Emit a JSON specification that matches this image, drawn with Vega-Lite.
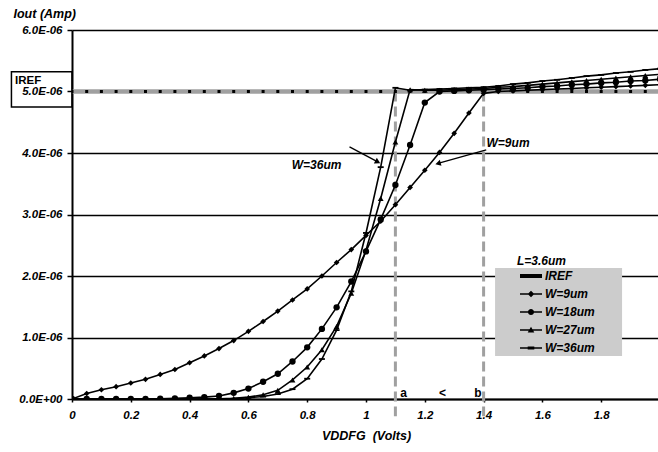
{
  "$schema": "https://vega.github.io/schema/vega-lite/v6.json",
  "width": 588,
  "height": 369,
  "autosize": {"type": "none"},
  "padding": {"left": 72, "top": 30, "right": 0, "bottom": 53},
  "background": "white",
  "config": {
    "font": "Liberation Sans",
    "view": {"stroke": null},
    "axis": {
      "labelFont": "Liberation Sans", "labelFontSize": 11.5, "labelFontWeight": "bold", "labelFontStyle": "italic", "labelColor": "black",
      "domainColor": "black", "domainWidth": 2,
      "tickColor": "black", "tickWidth": 1.5,
      "titleFont": "Liberation Sans", "titleFontSize": 12.5, "titleFontWeight": "bold", "titleFontStyle": "italic", "titleColor": "black"
    },
    "axisX": {"grid": false, "tickSize": 3, "labelPadding": 7, "labelFlush": false, "labelOverlap": false, "titlePadding": 9},
    "axisY": {
      "grid": true, "gridColor": "black", "gridWidth": 1.5, "gridOpacity": 1,
      "tickSize": 5, "labelPadding": 5,
      "titleAngle": 0, "titleAlign": "left", "titleBaseline": "middle", "titleX": -59, "titleY": -17
    }
  },
  "datasets": {
    "curves": [
      {"s":"IREF","v":0,"i":5},{"s":"IREF","v":0.05,"i":5},{"s":"IREF","v":0.1,"i":5},{"s":"IREF","v":0.15,"i":5},{"s":"IREF","v":0.2,"i":5},{"s":"IREF","v":0.25,"i":5},{"s":"IREF","v":0.3,"i":5},{"s":"IREF","v":0.35,"i":5},{"s":"IREF","v":0.4,"i":5},{"s":"IREF","v":0.45,"i":5},{"s":"IREF","v":0.5,"i":5},{"s":"IREF","v":0.55,"i":5},{"s":"IREF","v":0.6,"i":5},{"s":"IREF","v":0.65,"i":5},{"s":"IREF","v":0.7,"i":5},{"s":"IREF","v":0.75,"i":5},{"s":"IREF","v":0.8,"i":5},{"s":"IREF","v":0.85,"i":5},{"s":"IREF","v":0.9,"i":5},{"s":"IREF","v":0.95,"i":5},{"s":"IREF","v":1,"i":5},{"s":"IREF","v":1.05,"i":5},{"s":"IREF","v":1.1,"i":5},{"s":"IREF","v":1.15,"i":5},{"s":"IREF","v":1.2,"i":5},{"s":"IREF","v":1.25,"i":5},{"s":"IREF","v":1.3,"i":5},{"s":"IREF","v":1.35,"i":5},{"s":"IREF","v":1.4,"i":5},{"s":"IREF","v":1.45,"i":5},{"s":"IREF","v":1.5,"i":5},{"s":"IREF","v":1.55,"i":5},{"s":"IREF","v":1.6,"i":5},{"s":"IREF","v":1.65,"i":5},{"s":"IREF","v":1.7,"i":5},{"s":"IREF","v":1.75,"i":5},{"s":"IREF","v":1.8,"i":5},{"s":"IREF","v":1.85,"i":5},{"s":"IREF","v":1.9,"i":5},{"s":"IREF","v":1.95,"i":5},{"s":"IREF","v":2,"i":5},

      {"s":"W=9um","v":0,"i":0},{"s":"W=9um","v":0.05,"i":0.09},{"s":"W=9um","v":0.1,"i":0.15},{"s":"W=9um","v":0.15,"i":0.2},{"s":"W=9um","v":0.2,"i":0.26},{"s":"W=9um","v":0.25,"i":0.32},{"s":"W=9um","v":0.3,"i":0.4},{"s":"W=9um","v":0.35,"i":0.48},{"s":"W=9um","v":0.4,"i":0.59},{"s":"W=9um","v":0.45,"i":0.7},{"s":"W=9um","v":0.5,"i":0.82},{"s":"W=9um","v":0.55,"i":0.95},{"s":"W=9um","v":0.6,"i":1.1},{"s":"W=9um","v":0.65,"i":1.26},{"s":"W=9um","v":0.7,"i":1.43},{"s":"W=9um","v":0.75,"i":1.61},{"s":"W=9um","v":0.8,"i":1.79},{"s":"W=9um","v":0.85,"i":2.0},{"s":"W=9um","v":0.9,"i":2.22},{"s":"W=9um","v":0.95,"i":2.43},{"s":"W=9um","v":1,"i":2.66},{"s":"W=9um","v":1.05,"i":2.89},{"s":"W=9um","v":1.1,"i":3.16},{"s":"W=9um","v":1.15,"i":3.44},{"s":"W=9um","v":1.2,"i":3.72},{"s":"W=9um","v":1.25,"i":4.01},{"s":"W=9um","v":1.3,"i":4.32},{"s":"W=9um","v":1.35,"i":4.65},{"s":"W=9um","v":1.4,"i":4.97},{"s":"W=9um","v":1.45,"i":5.0},{"s":"W=9um","v":1.5,"i":5.01},{"s":"W=9um","v":1.55,"i":5.02},{"s":"W=9um","v":1.6,"i":5.03},{"s":"W=9um","v":1.65,"i":5.04},{"s":"W=9um","v":1.7,"i":5.05},{"s":"W=9um","v":1.75,"i":5.06},{"s":"W=9um","v":1.8,"i":5.07},{"s":"W=9um","v":1.85,"i":5.08},{"s":"W=9um","v":1.9,"i":5.09},{"s":"W=9um","v":1.95,"i":5.1},{"s":"W=9um","v":2,"i":5.11},

      {"s":"W=18um","v":0,"i":0},{"s":"W=18um","v":0.05,"i":0},{"s":"W=18um","v":0.1,"i":0},{"s":"W=18um","v":0.15,"i":0},{"s":"W=18um","v":0.2,"i":0},{"s":"W=18um","v":0.25,"i":0},{"s":"W=18um","v":0.3,"i":0.005},{"s":"W=18um","v":0.35,"i":0.01},{"s":"W=18um","v":0.4,"i":0.02},{"s":"W=18um","v":0.45,"i":0.03},{"s":"W=18um","v":0.5,"i":0.05},{"s":"W=18um","v":0.55,"i":0.1},{"s":"W=18um","v":0.6,"i":0.17},{"s":"W=18um","v":0.65,"i":0.28},{"s":"W=18um","v":0.7,"i":0.41},{"s":"W=18um","v":0.75,"i":0.61},{"s":"W=18um","v":0.8,"i":0.84},{"s":"W=18um","v":0.85,"i":1.14},{"s":"W=18um","v":0.9,"i":1.49},{"s":"W=18um","v":0.95,"i":1.91},{"s":"W=18um","v":1,"i":2.4},{"s":"W=18um","v":1.05,"i":2.92},{"s":"W=18um","v":1.1,"i":3.48},{"s":"W=18um","v":1.15,"i":4.13},{"s":"W=18um","v":1.2,"i":4.82},{"s":"W=18um","v":1.25,"i":5.0},{"s":"W=18um","v":1.3,"i":5.01},{"s":"W=18um","v":1.35,"i":5.02},{"s":"W=18um","v":1.4,"i":5.03},{"s":"W=18um","v":1.45,"i":5.04},{"s":"W=18um","v":1.5,"i":5.05},{"s":"W=18um","v":1.55,"i":5.06},{"s":"W=18um","v":1.6,"i":5.08},{"s":"W=18um","v":1.65,"i":5.09},{"s":"W=18um","v":1.7,"i":5.11},{"s":"W=18um","v":1.75,"i":5.12},{"s":"W=18um","v":1.8,"i":5.14},{"s":"W=18um","v":1.85,"i":5.15},{"s":"W=18um","v":1.9,"i":5.17},{"s":"W=18um","v":1.95,"i":5.18},{"s":"W=18um","v":2,"i":5.2},

      {"s":"W=27um","v":0,"i":0},{"s":"W=27um","v":0.05,"i":0},{"s":"W=27um","v":0.1,"i":0},{"s":"W=27um","v":0.15,"i":0},{"s":"W=27um","v":0.2,"i":0},{"s":"W=27um","v":0.25,"i":0},{"s":"W=27um","v":0.3,"i":0},{"s":"W=27um","v":0.35,"i":0},{"s":"W=27um","v":0.4,"i":0},{"s":"W=27um","v":0.45,"i":0},{"s":"W=27um","v":0.5,"i":0.005},{"s":"W=27um","v":0.55,"i":0.01},{"s":"W=27um","v":0.6,"i":0.03},{"s":"W=27um","v":0.65,"i":0.07},{"s":"W=27um","v":0.7,"i":0.14},{"s":"W=27um","v":0.75,"i":0.31},{"s":"W=27um","v":0.8,"i":0.52},{"s":"W=27um","v":0.85,"i":0.8},{"s":"W=27um","v":0.9,"i":1.18},{"s":"W=27um","v":0.95,"i":1.72},{"s":"W=27um","v":1,"i":2.42},{"s":"W=27um","v":1.05,"i":3.26},{"s":"W=27um","v":1.1,"i":4.18},{"s":"W=27um","v":1.15,"i":5.03},{"s":"W=27um","v":1.2,"i":5.02},{"s":"W=27um","v":1.25,"i":5.02},{"s":"W=27um","v":1.3,"i":5.03},{"s":"W=27um","v":1.35,"i":5.04},{"s":"W=27um","v":1.4,"i":5.05},{"s":"W=27um","v":1.45,"i":5.07},{"s":"W=27um","v":1.5,"i":5.08},{"s":"W=27um","v":1.55,"i":5.1},{"s":"W=27um","v":1.6,"i":5.12},{"s":"W=27um","v":1.65,"i":5.14},{"s":"W=27um","v":1.7,"i":5.16},{"s":"W=27um","v":1.75,"i":5.18},{"s":"W=27um","v":1.8,"i":5.2},{"s":"W=27um","v":1.85,"i":5.22},{"s":"W=27um","v":1.9,"i":5.24},{"s":"W=27um","v":1.95,"i":5.26},{"s":"W=27um","v":2,"i":5.28},

      {"s":"W=36um","v":0,"i":0},{"s":"W=36um","v":0.05,"i":0},{"s":"W=36um","v":0.1,"i":0},{"s":"W=36um","v":0.15,"i":0},{"s":"W=36um","v":0.2,"i":0},{"s":"W=36um","v":0.25,"i":0},{"s":"W=36um","v":0.3,"i":0},{"s":"W=36um","v":0.35,"i":0},{"s":"W=36um","v":0.4,"i":0},{"s":"W=36um","v":0.45,"i":0},{"s":"W=36um","v":0.5,"i":0},{"s":"W=36um","v":0.55,"i":0.005},{"s":"W=36um","v":0.6,"i":0.02},{"s":"W=36um","v":0.65,"i":0.04},{"s":"W=36um","v":0.7,"i":0.08},{"s":"W=36um","v":0.75,"i":0.16},{"s":"W=36um","v":0.8,"i":0.33},{"s":"W=36um","v":0.85,"i":0.65},{"s":"W=36um","v":0.9,"i":1.12},{"s":"W=36um","v":0.95,"i":1.75},{"s":"W=36um","v":1,"i":2.7},{"s":"W=36um","v":1.05,"i":3.77},{"s":"W=36um","v":1.1,"i":5.06},{"s":"W=36um","v":1.15,"i":5.02},{"s":"W=36um","v":1.2,"i":5.03},{"s":"W=36um","v":1.25,"i":5.04},{"s":"W=36um","v":1.3,"i":5.05},{"s":"W=36um","v":1.35,"i":5.06},{"s":"W=36um","v":1.4,"i":5.07},{"s":"W=36um","v":1.45,"i":5.09},{"s":"W=36um","v":1.5,"i":5.12},{"s":"W=36um","v":1.55,"i":5.14},{"s":"W=36um","v":1.6,"i":5.17},{"s":"W=36um","v":1.65,"i":5.19},{"s":"W=36um","v":1.7,"i":5.22},{"s":"W=36um","v":1.75,"i":5.25},{"s":"W=36um","v":1.8,"i":5.27},{"s":"W=36um","v":1.85,"i":5.3},{"s":"W=36um","v":1.9,"i":5.32},{"s":"W=36um","v":1.95,"i":5.35},{"s":"W=36um","v":2,"i":5.37}
    ]
  },
  "layer": [
    {
      "data": {"values": [{"v": 1.439, "v2": 1.871, "i": 2.13, "i2": 0.7}]},
      "mark": {"type": "rect", "fill": "#cccccc"},
      "encoding": {
        "x": {"field": "v", "type": "quantitative", "scale": {"domain": [0, 2]}},
        "x2": {"field": "v2"},
        "y": {"field": "i", "type": "quantitative", "scale": {"domain": [0, 6]}},
        "y2": {"field": "i2"}
      }
    },
    {
      "data": {"values": [{"v": 1.1, "i": 5, "i2": -0.28}, {"v": 1.4, "i": 5, "i2": -0.28}]},
      "mark": {"type": "rule", "color": "#a0a0a0", "strokeWidth": 3, "strokeDash": [10, 5]},
      "encoding": {
        "x": {"field": "v", "type": "quantitative", "scale": {"domain": [0, 2]}},
        "y": {"field": "i", "type": "quantitative", "scale": {"domain": [0, 6]}},
        "y2": {"field": "i2"}
      }
    },
    {
      "data": {"name": "curves"},
      "transform": [{"filter": "datum.s === 'IREF'"}],
      "mark": {"type": "line", "color": "#a0a0a0", "strokeWidth": 4.5, "clip": true},
      "encoding": {
        "x": {"field": "v", "type": "quantitative", "scale": {"domain": [0, 2]}},
        "y": {"field": "i", "type": "quantitative", "scale": {"domain": [0, 6]}}
      }
    },
    {
      "data": {"name": "curves"},
      "transform": [{"filter": "datum.s === 'IREF'"}],
      "mark": {"type": "point", "shape": "square", "size": 9, "filled": true, "color": "black", "opacity": 1, "clip": true},
      "encoding": {
        "x": {"field": "v", "type": "quantitative", "scale": {"domain": [0, 2]}},
        "y": {"field": "i", "type": "quantitative", "scale": {"domain": [0, 6]}}
      }
    },
    {
      "data": {"name": "curves"},
      "transform": [{"filter": "datum.s !== 'IREF'"}],
      "mark": {"type": "line", "color": "black", "strokeWidth": 1.6, "clip": true},
      "encoding": {
        "x": {
          "field": "v", "type": "quantitative", "scale": {"domain": [0, 2]},
          "title": "VDDFG\u00a0\u00a0(Volts)",
          "axis": {"values": [0, 0.2, 0.4, 0.6, 0.8, 1, 1.2, 1.4, 1.6, 1.8], "format": "~g"}
        },
        "y": {
          "field": "i", "type": "quantitative", "scale": {"domain": [0, 6]},
          "title": "Iout (Amp)",
          "axis": {
            "values": [0, 1, 2, 3, 4, 5, 6],
            "labelExpr": "datum.value == 0 ? '0.0E+00' : format(datum.value, '.1f') + 'E-06'"
          }
        },
        "detail": {"field": "s"}
      }
    },
    {
      "data": {"name": "curves"},
      "transform": [{"filter": "datum.s === 'W=9um'"}],
      "mark": {"type": "point", "shape": "diamond", "size": 32, "filled": true, "color": "black", "opacity": 1, "clip": true},
      "encoding": {
        "x": {"field": "v", "type": "quantitative", "scale": {"domain": [0, 2]}},
        "y": {"field": "i", "type": "quantitative", "scale": {"domain": [0, 6]}}
      }
    },
    {
      "data": {"name": "curves"},
      "transform": [{"filter": "datum.s === 'W=18um'"}],
      "mark": {"type": "point", "shape": "circle", "size": 40, "filled": true, "color": "black", "opacity": 1, "clip": true},
      "encoding": {
        "x": {"field": "v", "type": "quantitative", "scale": {"domain": [0, 2]}},
        "y": {"field": "i", "type": "quantitative", "scale": {"domain": [0, 6]}}
      }
    },
    {
      "data": {"name": "curves"},
      "transform": [{"filter": "datum.s === 'W=27um'"}],
      "mark": {"type": "point", "shape": "triangle-up", "size": 34, "filled": true, "color": "black", "opacity": 1, "clip": true},
      "encoding": {
        "x": {"field": "v", "type": "quantitative", "scale": {"domain": [0, 2]}},
        "y": {"field": "i", "type": "quantitative", "scale": {"domain": [0, 6]}}
      }
    },
    {
      "data": {"name": "curves"},
      "transform": [{"filter": "datum.s === 'W=36um'"}],
      "mark": {"type": "point", "shape": "M-1,-0.3H1V0.3H-1Z", "size": 36, "filled": true, "color": "black", "opacity": 1, "clip": true},
      "encoding": {
        "x": {"field": "v", "type": "quantitative", "scale": {"domain": [0, 2]}},
        "y": {"field": "i", "type": "quantitative", "scale": {"domain": [0, 6]}}
      }
    },
    {
      "data": {"name": "curves"},
      "mark": {"type": "point", "filled": true, "color": "black", "opacity": 0, "size": 121, "clip": true},
      "encoding": {
        "x": {"field": "v", "type": "quantitative", "scale": {"domain": [0, 2]}},
        "y": {"field": "i", "type": "quantitative", "scale": {"domain": [0, 6]}},
        "shape": {
          "field": "s", "type": "nominal",
          "scale": {
            "domain": ["IREF", "W=9um", "W=18um", "W=27um", "W=36um"],
            "range": [
              "M-2,-0.36H2V0.36H-2Z",
              "M-2,-0.14H2V0.14H-2ZM0,-0.6L0.6,0L0,0.6L-0.6,0Z",
              "M-2,-0.14H2V0.14H-2ZM0.55,0A0.55,0.55,0,1,1,-0.55,0A0.55,0.55,0,1,1,0.55,0Z",
              "M-2,-0.14H2V0.14H-2ZM0,-0.6L0.6,0.45L-0.6,0.45Z",
              "M-2,-0.14H2V0.14H-2ZM-0.6,-0.26H0.6V0.26H-0.6Z"
            ]
          },
          "legend": {
            "title": null,
            "orient": "none", "legendX": 453, "legendY": 240,
            "padding": 0, "symbolSize": 121, "labelOffset": 8, "rowPadding": 6,
            "labelFont": "Liberation Sans", "labelFontSize": 12, "labelFontWeight": "bold", "labelFontStyle": "italic", "labelColor": "black",
            "symbolFillColor": "black", "symbolStrokeColor": "black", "symbolStrokeWidth": 0, "symbolOpacity": 1,
            "encode": {
              "symbols": {
                "fill": {"value": {"expr": "datum.label === 'IREF' ? '#a0a0a0' : 'black'"}},
                "strokeWidth": {"value": 0},
                "size": {"value": 121},
                "opacity": {"value": 1}
              }
            }
          }
        }
      }
    },
    {
      "data": {"values": [{"v": -0.206, "v2": 0, "i": 5.32, "i2": 4.75}]},
      "mark": {"type": "rect", "fill": null, "stroke": "black", "strokeWidth": 1.5},
      "encoding": {
        "x": {"field": "v", "type": "quantitative", "scale": {"domain": [0, 2]}},
        "x2": {"field": "v2"},
        "y": {"field": "i", "type": "quantitative", "scale": {"domain": [0, 6]}},
        "y2": {"field": "i2"}
      }
    },
    {
      "data": {"values": [{"label": "IREF", "v": -0.194, "i": 5.13}]},
      "mark": {"type": "text", "font": "Liberation Sans", "fontSize": 11.5, "fontWeight": "bold", "color": "black", "align": "left", "baseline": "alphabetic"},
      "encoding": {
        "x": {"field": "v", "type": "quantitative", "scale": {"domain": [0, 2]}},
        "y": {"field": "i", "type": "quantitative", "scale": {"domain": [0, 6]}},
        "text": {"field": "label"}
      }
    },
    {
      "data": {"values": [{"label": "a", "v": 1.128, "i": 0.04}, {"label": "<", "v": 1.26, "i": 0.04}, {"label": "b", "v": 1.381, "i": 0.04}]},
      "mark": {"type": "text", "font": "Liberation Sans", "fontSize": 12, "fontWeight": "bold", "color": "black", "align": "center", "baseline": "alphabetic"},
      "encoding": {
        "x": {"field": "v", "type": "quantitative", "scale": {"domain": [0, 2]}},
        "y": {"field": "i", "type": "quantitative", "scale": {"domain": [0, 6]}},
        "text": {"field": "label"}
      }
    },
    {
      "data": {"values": [{"label": "W=36um", "v": 0.832, "i": 3.8}, {"label": "L=3.6um", "v": 1.597, "i": 2.24}]},
      "mark": {"type": "text", "font": "Liberation Sans", "fontSize": 12, "fontWeight": "bold", "fontStyle": "italic", "color": "black", "align": "center", "baseline": "middle"},
      "encoding": {
        "x": {"field": "v", "type": "quantitative", "scale": {"domain": [0, 2]}},
        "y": {"field": "i", "type": "quantitative", "scale": {"domain": [0, 6]}},
        "text": {"field": "label"}
      }
    },
    {
      "data": {"values": [{"label": "W=9um", "v": 1.41, "i": 4.16}]},
      "mark": {"type": "text", "font": "Liberation Sans", "fontSize": 12, "fontWeight": "bold", "fontStyle": "italic", "color": "black", "align": "left", "baseline": "middle"},
      "encoding": {
        "x": {"field": "v", "type": "quantitative", "scale": {"domain": [0, 2]}},
        "y": {"field": "i", "type": "quantitative", "scale": {"domain": [0, 6]}},
        "text": {"field": "label"}
      }
    },
    {
      "data": {"values": [{"v": 0.944, "i": 4.1, "v2": 1.04, "i2": 3.855}, {"v": 1.409, "i": 4.05, "v2": 1.245, "i2": 3.83}]},
      "mark": {"type": "rule", "color": "black", "strokeWidth": 1.3},
      "encoding": {
        "x": {"field": "v", "type": "quantitative", "scale": {"domain": [0, 2]}},
        "y": {"field": "i", "type": "quantitative", "scale": {"domain": [0, 6]}},
        "x2": {"field": "v2"},
        "y2": {"field": "i2"}
      }
    },
    {
      "data": {"values": [{"v": 1.04, "i": 3.855}]},
      "mark": {"type": "point", "shape": "triangle-right", "angle": 28, "filled": true, "color": "black", "opacity": 1, "size": 40},
      "encoding": {
        "x": {"field": "v", "type": "quantitative", "scale": {"domain": [0, 2]}},
        "y": {"field": "i", "type": "quantitative", "scale": {"domain": [0, 6]}}
      }
    },
    {
      "data": {"values": [{"v": 1.245, "i": 3.83}]},
      "mark": {"type": "point", "shape": "triangle-right", "angle": 165, "filled": true, "color": "black", "opacity": 1, "size": 40},
      "encoding": {
        "x": {"field": "v", "type": "quantitative", "scale": {"domain": [0, 2]}},
        "y": {"field": "i", "type": "quantitative", "scale": {"domain": [0, 6]}}
      }
    }
  ]
}
